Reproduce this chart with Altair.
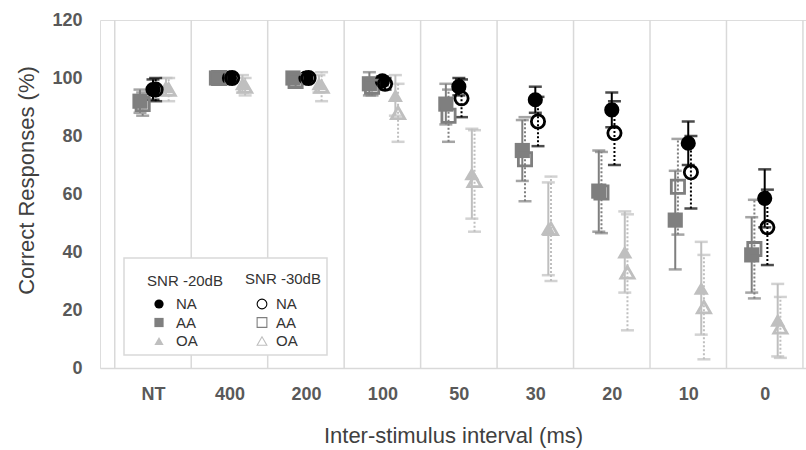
import altair as alt
import pandas as pd

# ---------------- data ----------------
categories = ["NT", "400", "200", "100", "50", "30", "20", "10", "0"]

na_20 = [96, 100, 100, 99, 97, 92.5, 89, 77.5, 58.5]
na_20_err = [3.5, 1, 1, 1.5, 3, 4.5, 6, 7.5, 10]
na_30 = [96, 100, 100, 98, 93, 85, 81, 67.5, 48.5]
na_30_err = [4, 1, 1, 2, 6.5, 8.5, 11, 12.5, 13]

aa_20 = [92, 100, 100, 98, 91, 75, 61, 51, 39]
aa_20_err = [4, 1, 1.5, 4, 7, 10.5, 14, 17, 13]
aa_30 = [91, 100, 99, 97, 87, 72, 60.5, 62.5, 41]
aa_30_err = [4, 1, 2, 3, 9, 14.5, 14, 16.5, 17]

oa_20 = [97, 98, 98, 94, 67, 48, 40, 27.5, 16.5]
oa_20_err = [3, 3, 3, 7, 15.5, 16, 14, 16, 12.5]
oa_30 = [96, 97, 97, 88, 64.5, 48, 33, 21, 14]
oa_30_err = [4, 3, 5, 10, 17.5, 18, 20, 18, 10.5]

groups = ["OA", "AA", "NA"]
group_colors = ["#bfbfbf", "#7f7f7f", "#000000"]
group_shapes = ["triangle-up", "square", "circle"]

series = [
    ("OA", "-20", oa_20, oa_20_err), ("OA", "-30", oa_30, oa_30_err),
    ("AA", "-20", aa_20, aa_20_err), ("AA", "-30", aa_30, aa_30_err),
    ("NA", "-20", na_20, na_20_err), ("NA", "-30", na_30, na_30_err),
]
rows = []
for g, snr, vals, errs in series:
    for i, (v, e) in enumerate(zip(vals, errs)):
        rows.append(dict(cat=categories[i], idx=i, group=g, snr=snr,
                         value=v, lo=v - e, hi=v + e))
df = pd.DataFrame(rows)
bounds = pd.DataFrame({"b": [i - 0.5 for i in range(len(categories) + 1)]})

# ---------------- encodings ----------------
label_array = "[" + ",".join("'%s'" % c for c in categories) + "]"
x_scale = alt.Scale(domain=[-0.693, 8.54], nice=False, zero=False)
x_axis = alt.Axis(
    values=list(range(len(categories))), labelExpr=label_array + "[datum.value]",
    grid=False, ticks=False, domainColor="#d9d9d9", domainWidth=1.5,
    labelFont="Liberation Sans", labelFontWeight="bold",
    labelFontSize=18, labelColor="#595959", labelPadding=17,
    title="Inter-stimulus interval (ms)", titleFont="Liberation Sans",
    titleFontSize=22, titleFontWeight="normal", titleColor="#404040", titlePadding=22,
)
y_scale = alt.Scale(domain=[0, 120], nice=False)
y_axis = alt.Axis(
    values=[0, 20, 40, 60, 80, 100, 120], grid=False, ticks=False, domain=False,
    labelFont="Liberation Sans", labelFontWeight="bold",
    labelFontSize=18, labelColor="#595959", labelPadding=18,
    title="Correct Responses (%)", titleFont="Liberation Sans", titleFontSize=22,
    titleFontWeight="normal", titleColor="#404040", titlePadding=13, titleY=160,
)

xpos_expr = ("datum.idx + (datum.group == 'AA' ? -0.17 : datum.group == 'OA' ? 0.17 : 0)"
             " + (datum.snr == '-30' ? 0.035 : 0)")
color_enc = alt.Color("group:N", scale=alt.Scale(domain=groups, range=group_colors), legend=None)
shape_enc = alt.Shape("group:N", scale=alt.Scale(domain=groups, range=group_shapes), legend=None)

base = alt.Chart(df).transform_calculate(xpos=xpos_expr)
X = alt.X("xpos:Q", scale=x_scale, axis=x_axis)
Y = alt.Y("value:Q", scale=y_scale, axis=y_axis)

separators = alt.Chart(bounds).mark_rule(color="#d9d9d9", strokeWidth=1.5).encode(
    x=alt.X("b:Q", scale=x_scale, axis=x_axis)
)

bars_solid = base.transform_filter("datum.snr == '-20'").mark_rule(strokeWidth=2).encode(
    x=X, y=alt.Y("lo:Q", scale=y_scale, axis=y_axis), y2="hi:Q", color=color_enc)
bars_dot = base.transform_filter("datum.snr == '-30'").mark_rule(
    strokeWidth=2, strokeDash=[2, 2]).encode(
    x=X, y=alt.Y("lo:Q", scale=y_scale, axis=y_axis), y2="hi:Q", color=color_enc)
caps_lo = base.mark_tick(orient="horizontal", size=13, thickness=2.5).encode(
    x=X, y=alt.Y("lo:Q", scale=y_scale, axis=y_axis), color=color_enc)
caps_hi = base.mark_tick(orient="horizontal", size=13, thickness=2.5).encode(
    x=X, y=alt.Y("hi:Q", scale=y_scale, axis=y_axis), color=color_enc)

pts_filled = base.transform_filter("datum.snr == '-20'").mark_point(
    filled=True, opacity=1, size=230).encode(x=X, y=Y, color=color_enc, shape=shape_enc)
pts_open = base.transform_filter("datum.snr == '-30'").mark_point(
    filled=False, opacity=1, size=175, strokeWidth=2.8).encode(
    x=X, y=Y, color=color_enc, shape=shape_enc)

# ---------------- legend (drawn box) ----------------
one = pd.DataFrame({"a": [0]})
leg_layers = [
    alt.Chart(one).mark_rect(fill="white", stroke="#d9d9d9", strokeWidth=1.5).encode(
        x=alt.value(24), x2=alt.value(227), y=alt.value(238), y2=alt.value(335)),
    alt.Chart(one).mark_text(text="SNR -20dB", font="Liberation Sans", fontSize=15,
                             color="#333333", align="center", baseline="middle").encode(
        x=alt.value(85), y=alt.value(261)),
    alt.Chart(one).mark_text(text="SNR -30dB", font="Liberation Sans", fontSize=15,
                             color="#333333", align="center", baseline="middle").encode(
        x=alt.value(183), y=alt.value(259)),
]
leg_rows = [("NA", "circle", "#000000"), ("AA", "square", "#7f7f7f"), ("OA", "triangle-up", "#bfbfbf")]
for k, (name, shp, col) in enumerate(leg_rows):
    yy = 284 + 18.5 * k
    leg_layers.append(alt.Chart(one).mark_point(filled=True, opacity=1, size=85, shape=shp,
                                               color=col).encode(x=alt.value(59), y=alt.value(yy)))
    leg_layers.append(alt.Chart(one).mark_point(filled=False, opacity=1, size=95, shape=shp,
                                               color=col, strokeWidth=1.1).encode(
        x=alt.value(162), y=alt.value(yy)))
    for xx in (76, 176):
        leg_layers.append(alt.Chart(one).mark_text(
            text=name, font="Liberation Sans", fontSize=15, color="#333333",
            align="left", baseline="middle").encode(x=alt.value(xx), y=alt.value(yy)))

chart = alt.layer(
    separators, bars_solid, bars_dot, caps_lo, caps_hi, pts_filled, pts_open, *leg_layers
).properties(
    width=706, height=348,
    padding={"left": 100, "top": 20, "right": 0, "bottom": 82},
    autosize=alt.AutoSizeParams(type="none"),
).configure_view(stroke=None).configure(background="white")

chart.save("out.html", embed_options={"renderer": "svg", "actions": False})
